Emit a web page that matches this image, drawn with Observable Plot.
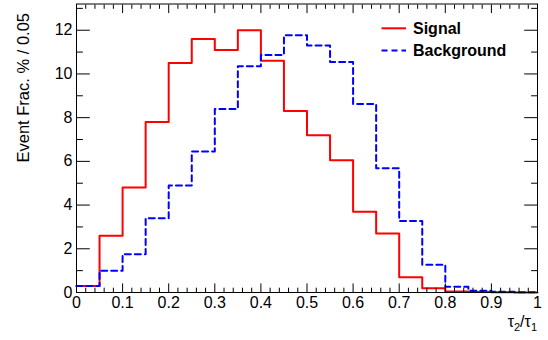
<!DOCTYPE html>
<html>
<head>
<meta charset="utf-8">
<script src="https://cdn.jsdelivr.net/npm/d3@7"></script>
<script src="https://cdn.jsdelivr.net/npm/@observablehq/plot@0.6"></script>
<style>
  html, body { margin: 0; padding: 0; background: #fff; }
  #chart { width: 548px; height: 340px; }
</style>
</head>
<body>
<div id="chart"></div>
<script>
// Bin edges (lower edges of 20 bins of width 0.05, plus the upper edge 1)
const binEdges = [0, 0.05, 0.1, 0.15, 0.2, 0.25, 0.3, 0.35, 0.4, 0.45, 0.5,
                  0.55, 0.6, 0.65, 0.7, 0.75, 0.8, 0.85, 0.9, 0.95, 1];
// Event fraction (%) per bin
const signal = [0.3, 2.6, 4.8, 7.8, 10.5, 11.6, 11.1, 12.0, 10.6, 8.3,
                7.2, 6.05, 3.7, 2.7, 0.7, 0.2, 0.05, 0.02, 0.01, 0.0];
const background = [0.3, 1.0, 1.75, 3.4, 4.9, 6.45, 8.4, 10.35, 10.87, 11.77,
                    11.3, 10.55, 8.63, 5.68, 3.27, 1.27, 0.26, 0.08, 0.03, 0.01];

const xMajorTicks = [0, 0.1, 0.2, 0.3, 0.4, 0.5, 0.6, 0.7, 0.8, 0.9, 1];
const xMinorTicks = [0.02, 0.04, 0.06, 0.08, 0.12, 0.14, 0.16, 0.18, 0.22, 0.24, 0.26, 0.28,
                     0.32, 0.34, 0.36, 0.38, 0.42, 0.44, 0.46, 0.48, 0.52, 0.54, 0.56, 0.58,
                     0.62, 0.64, 0.66, 0.68, 0.72, 0.74, 0.76, 0.78, 0.82, 0.84, 0.86, 0.88,
                     0.92, 0.94, 0.96, 0.98];
const xTickLabels = ["0", "0.1", "0.2", "0.3", "0.4", "0.5", "0.6", "0.7", "0.8", "0.9", "1"];
const yMajorTicks = [0, 2, 4, 6, 8, 10, 12];
const yMinorTicks = [1, 3, 5, 7, 9, 11, 13];
const yTickLabels = ["0", "2", "4", "6", "8", "10", "12"];

const yTitle = "Event Frac. % / 0.05";
const seriesNames = ["Signal", "Background"];
const seriesColors = ["#ff0000", "#0000ff"];
const seriesDash = [null, "6,4"];

// Step table: each bin value at its lower edge, the last value repeated at x = 1
function steps(values) {
  return binEdges.map((x, i) => ({x, y: values[Math.min(i, values.length - 1)]}));
}

const font = "'Liberation Sans', Arial, Helvetica, sans-serif";
const xTickLen = 8.6, yTickLen = 13.8;

const chart = Plot.plot({
  width: 548,
  height: 340,
  marginLeft: 76,
  marginRight: 11,
  marginTop: 3.5,
  marginBottom: 48,
  style: {fontFamily: font, fontSize: "16px", color: "#000", background: "#fff"},
  x: {domain: [0, 1]},
  y: {domain: [0, 13.2]},
  marks: [
    Plot.lineY(steps(signal), {x: "x", y: "y", curve: "step-after", stroke: seriesColors[0], strokeWidth: 2}),
    Plot.lineY(steps(background), {x: "x", y: "y", curve: "step-after", stroke: seriesColors[1], strokeWidth: 2, strokeDasharray: seriesDash[1]}),
    Plot.frame({stroke: "#000", strokeWidth: 1}),
    // bottom axis
    Plot.axisX(xMajorTicks, {anchor: "bottom", tickSize: -xTickLen, tickPadding: xTickLen + 4.5,
      tickFormat: (d, i) => xTickLabels[i], fontSize: 16, label: null, stroke: "#000"}),
    Plot.axisX(xMinorTicks, {anchor: "bottom", tickSize: -xTickLen / 2, text: null, label: null}),
    // top axis
    Plot.axisX(xMajorTicks, {anchor: "top", tickSize: -xTickLen, text: null, label: null}),
    Plot.axisX(xMinorTicks, {anchor: "top", tickSize: -xTickLen / 2, text: null, label: null}),
    // left axis
    Plot.axisY(yMajorTicks, {anchor: "left", tickSize: -yTickLen, tickPadding: yTickLen + 4,
      tickFormat: (d, i) => yTickLabels[i], fontSize: 16, label: null}),
    Plot.axisY(yMinorTicks, {anchor: "left", tickSize: -yTickLen / 2, text: null, label: null}),
    // right axis
    Plot.axisY(yMajorTicks, {anchor: "right", tickSize: -yTickLen, text: null, label: null}),
    Plot.axisY(yMinorTicks, {anchor: "right", tickSize: -yTickLen / 2, text: null, label: null})
  ]
});

document.getElementById("chart").appendChild(chart);

const svg = d3.select(chart);

// Y axis title (rotated, right-aligned to the top)
svg.append("text")
  .attr("transform", "translate(23,13) rotate(-90)")
  .attr("text-anchor", "end")
  .attr("dominant-baseline", "central")
  .attr("font-family", font)
  .attr("font-size", 16.5)
  .attr("fill", "#000")
  .text(yTitle);

// X axis title tau_2/tau_1 with subscripts
const xt = svg.append("text")
  .attr("x", 537)
  .attr("y", 327)
  .attr("text-anchor", "end")
  .attr("font-family", font)
  .attr("font-size", 16)
  .attr("fill", "#000");
xt.append("tspan").text("τ");
xt.append("tspan").attr("font-size", 11).attr("dy", 4).text("2");
xt.append("tspan").attr("dy", -4).text("/τ");
xt.append("tspan").attr("font-size", 11).attr("dy", 4).text("1");

// Legend
const leg = svg.append("g").attr("text-anchor", "start");
seriesNames.forEach((name, i) => {
  const cy = 28.3 + i * 22.3;
  leg.append("line")
    .attr("x1", 381.5).attr("x2", 406)
    .attr("y1", cy).attr("y2", cy)
    .attr("stroke", seriesColors[i])
    .attr("stroke-width", 2)
    .attr("stroke-dasharray", seriesDash[i]);
  leg.append("text")
    .attr("x", 413)
    .attr("y", cy + 5.3)
    .attr("text-anchor", "start")
    .attr("font-family", font)
    .attr("font-size", 16)
    .attr("font-weight", "bold")
    .attr("fill", "#000")
    .text(name);
});
</script>
</body>
</html>
